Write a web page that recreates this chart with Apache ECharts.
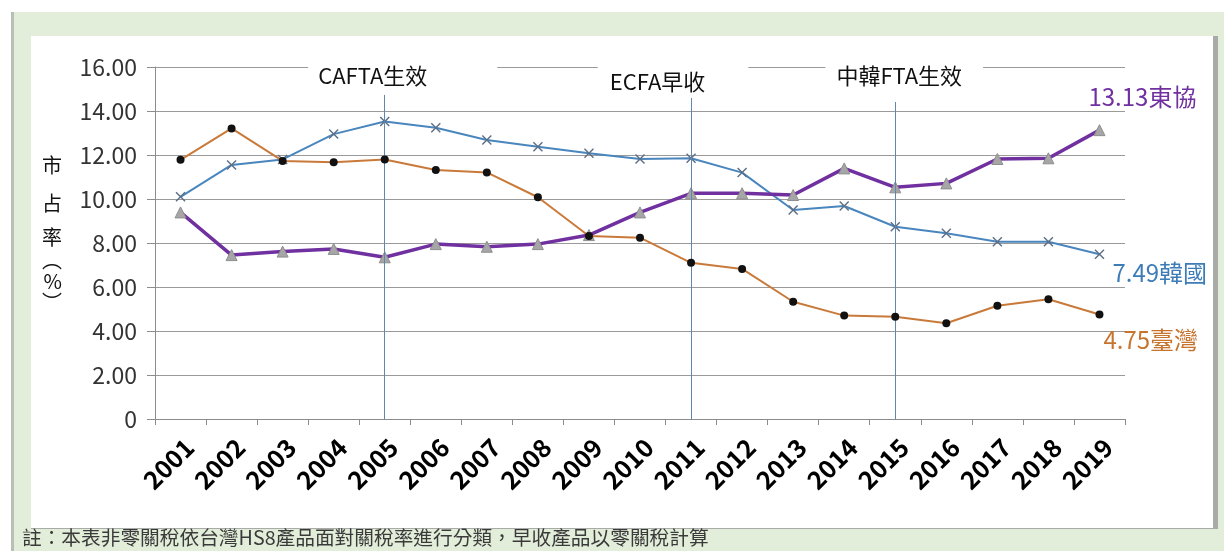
<!DOCTYPE html>
<html>
<head>
<meta charset="utf-8">
<script src="https://cdn.jsdelivr.net/npm/echarts@6/dist/echarts.min.js"></script>
<style>
html,body{margin:0;padding:0;background:#fff;}
#c{width:1224px;height:551px;}
</style>
</head>
<body>
<div id="c"></div>
<script>
const categories = ['2001','2002','2003','2004','2005','2006','2007','2008','2009','2010','2011','2012','2013','2014','2015','2016','2017','2018','2019'];
const taiwan = [11.78, 13.21, 11.73, 11.67, 11.80, 11.32, 11.21, 10.08, 8.32, 8.24, 7.10, 6.82, 5.33, 4.70, 4.65, 4.35, 5.15, 5.44, 4.75];
const korea  = [10.10, 11.55, 11.80, 12.95, 13.52, 13.24, 12.68, 12.38, 12.08, 11.82, 11.85, 11.20, 9.50, 9.68, 8.74, 8.44, 8.06, 8.06, 7.49];
const asean  = [9.39, 7.45, 7.61, 7.73, 7.35, 7.95, 7.83, 7.95, 8.36, 9.39, 10.26, 10.26, 10.18, 11.39, 10.53, 10.71, 11.82, 11.85, 13.13];
const yTickLabels = ['0','2.00','4.00','6.00','8.00','10.00','12.00','14.00','16.00'];
const eventYears = ['2005','2011','2015'];
const eventNames = ['CAFTA生效','ECFA早收','中韓FTA生效'];
const eventLineTops = [14.73, 14.59, 14.41];
const seriesNames = ['臺灣','韓國','東協'];

const FONT = '"Noto Sans CJK TC","Noto Sans",sans-serif';
const chart = echarts.init(document.getElementById('c'), null, {renderer:'canvas'});

function withEndLabel(arr, name, color, offset){
  return arr.map((v,i)=> i===arr.length-1 ? {
    value:v,
    label:{show:true, position:'right', offset:offset, color:color, fontSize:24, fontFamily:FONT,
      formatter:()=> v.toFixed(2)+name}
  } : v);
}

const evStyle = [
  {offset:[18,0], padding:[4,70,2,10], distance:6},
  {offset:[-18,0], padding:[4,43,2,12], distance:3},
  {offset:[9,0], padding:[4,21,2,11], distance:13}
];

const markLineData = eventYears.map((y,i)=>[
  {coord:[y,0]},
  {coord:[y,eventLineTops[i]],
   label:{show:true, position:'end', formatter:eventNames[i], color:'#111', fontSize:22, fontFamily:FONT,
     backgroundColor:'#fff', padding:evStyle[i].padding, offset:evStyle[i].offset, distance:evStyle[i].distance}}
]);

const xShape = 'path://M0,1L1,0L5,4L9,0L10,1L6,5L10,9L9,10L5,6L1,10L0,9L4,5Z';

chart.setOption({
  animation:false,
  backgroundColor:'#fff',
  textStyle:{fontFamily:FONT},
  graphic:[
    {type:'rect', z:-10, silent:true, shape:{x:11,y:12,width:1213,height:539}, style:{fill:'#E3EEDA'}},
    {type:'rect', z:-9, silent:true, shape:{x:11,y:12,width:3,height:539}, style:{fill:'#B9BFB4'}},
    {type:'rect', z:-9, silent:true, shape:{x:31,y:36,width:1187,height:493}, style:{fill:'#A9ABA8'}},
    {type:'rect', z:-8, silent:true, shape:{x:31,y:36,width:1182,height:492}, style:{fill:'#ffffff'}},
    {type:'text', z:5, silent:true, left:22, top:528,
     style:{text:'註：本表非零關稅依台灣HS8產品面對關稅率進行分類，早收產品以零關稅計算', fill:'#3a3a3a', fontSize:19.7, fontFamily:FONT}}
  ],
  grid:{left:155, right:99, top:67, bottom:132},
  xAxis:{
    type:'category', data:categories, boundaryGap:true,
    axisLine:{lineStyle:{color:'#8c8c8c', width:1}},
    axisTick:{show:true, length:6, lineStyle:{color:'#8c8c8c'}},
    axisLabel:{rotate:45, color:'#000', fontSize:25, fontWeight:'bold', fontFamily:FONT, margin:15, interval:0,
      verticalAlign:'top'}
  },
  yAxis:{
    type:'value', min:0, max:16, interval:2,
    name:'{a|市}\n{a|占}\n{d|率}\n{b|︵}\n{c|%}\n{b|︶}',
    nameLocation:'middle', nameGap:93, nameRotate:0,
    nameTextStyle:{color:'#111', fontSize:20, fontFamily:FONT, padding:[0,0,30,0],
      rich:{a:{fontSize:20, lineHeight:38, color:'#111', fontFamily:FONT},
            d:{fontSize:20, lineHeight:30, color:'#111', fontFamily:FONT},
            b:{fontSize:20, lineHeight:16, color:'#111', fontFamily:FONT},
            c:{fontSize:20, lineHeight:26, color:'#111', fontFamily:FONT}}},
    axisLine:{show:true, lineStyle:{color:'#8c8c8c'}},
    axisTick:{show:true, length:8, lineStyle:{color:'#8c8c8c'}},
    splitLine:{lineStyle:{color:'#9a9a9a', width:1}},
    axisLabel:{color:'#333', fontSize:23, fontFamily:FONT, margin:18,
      formatter:(v,i)=> yTickLabels[i]}
  },
  series:[
    {
      name:seriesNames[1], type:'line', data:withEndLabel(korea, seriesNames[1], '#3E7CB8', [3,19]),
      symbol:xShape, symbolSize:10,
      lineStyle:{color:'#4A86BE', width:2},
      itemStyle:{color:'#5C6F86'},
      z:3,
      markLine:{silent:true, symbol:'none', animation:false,
        lineStyle:{color:'#5F86AC', width:1, type:'solid'},
        data:markLineData}
    },
    {
      name:seriesNames[2], type:'line', data:withEndLabel(asean, seriesNames[2], '#7030A0', [-22,-33]),
      symbol:'triangle', symbolSize:11,
      lineStyle:{color:'#7030A0', width:3.5},
      itemStyle:{color:'#A6A6A6', borderColor:'#8E8E8E', borderWidth:1},
      z:4
    },
    {
      name:seriesNames[0], type:'line', data:withEndLabel(taiwan, seriesNames[0], '#C7742F', [-5,25]),
      symbol:'circle', symbolSize:8,
      lineStyle:{color:'#C97A3A', width:2},
      itemStyle:{color:'#111'},
      z:5
    }
  ]
});
</script>
</body>
</html>
